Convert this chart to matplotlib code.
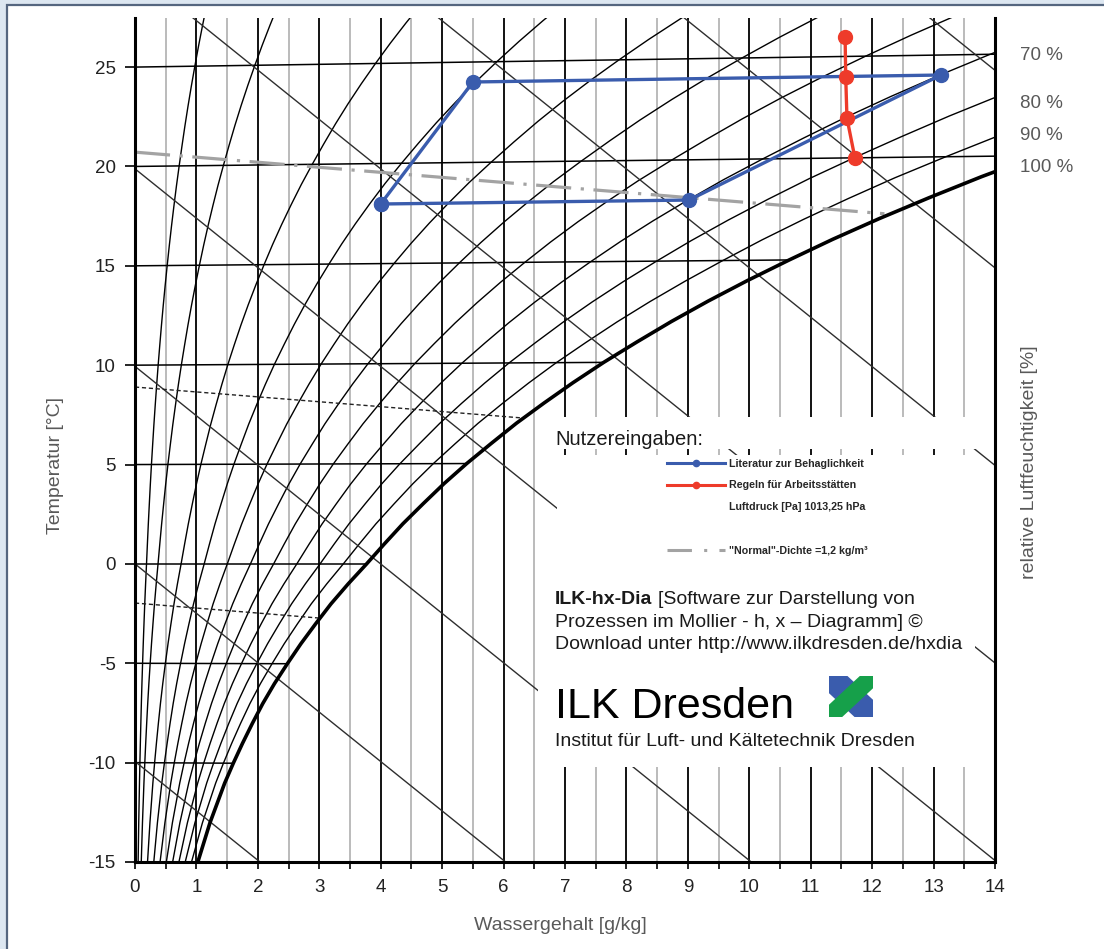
import numpy as np
import matplotlib.pyplot as plt
from matplotlib.lines import Line2D
from matplotlib.patches import Rectangle, Polygon

plt.rcParams['font.family'] = ['Liberation Sans', 'DejaVu Sans']
plt.rcParams['axes.unicode_minus'] = False

# ---------------------------------------------------------------------
# Daten
# ---------------------------------------------------------------------
# Sattigungslinie: Temperatur [°C] -> Wassergehalt [g/kg]
T_SAT = [-15, -14, -13, -12, -11, -10, -9, -8, -7, -6, -5, -4, -3, -2, -1, 0,
         1, 2, 3, 4, 5, 6, 7, 8, 9, 10, 11, 12, 13, 14, 15, 16, 17, 18, 19, 20,
         21, 22, 23, 24, 25, 26, 27, 28, 29, 30]
X_SAT = [1.02, 1.12, 1.22, 1.34, 1.46, 1.60, 1.75, 1.91, 2.08, 2.27, 2.48, 2.70, 2.94, 3.19, 3.47, 3.77,
         4.06, 4.36, 4.69, 5.03, 5.40, 5.80, 6.21, 6.66, 7.13, 7.63, 8.17, 8.73, 9.33, 9.97, 10.65, 11.36,
         12.12, 12.93, 13.78, 14.70, 15.66, 16.66, 17.73, 18.87, 20.08, 21.35, 22.70, 24.12, 25.62, 27.20]

RH_LEVELS = [5, 10, 20, 30, 40, 50, 60, 70, 80, 90]      # duenne phi-Linien [%]
ISOTHERMS = [-10, -5, 0, 5, 10, 15, 20, 25]              # [°C]
ENTHALPY = [-10, 0, 10, 20, 30, 40, 50, 60]              # [kJ/kg]

# Dichtelinien
RHO_120_X = [0.0, 12.2]
RHO_120_Y = [20.72, 17.62]
RHO_125_X = [0.0, 6.32]
RHO_125_Y = [8.90, 7.34]
RHO_130_X = [0.0, 2.98]
RHO_130_Y = [-1.97, -2.72]

# Nutzereingaben
BLUE_X = [4.00, 5.50, 13.12, 9.02, 4.00]
BLUE_Y = [18.11, 24.25, 24.60, 18.31, 18.11]
RED_X = [11.56, 11.57, 11.59, 11.72]
RED_Y = [26.50, 24.50, 22.43, 20.42]

RH_LABELS = ['70 %', '80 %', '90 %', '100 %']
RH_LABEL_Y = [25.6, 23.15, 21.55, 19.95]

BLUE = '#3a5cad'
RED = '#ee3b2a'
GRAY = '#a3a3a3'
TXT = '#595959'
DARK = '#1a1a1a'


def mollier_y(t, x):
    # schiefwinkliges h,x-Koordinatensystem
    return t * (1 + 0.00185 * np.asarray(x))


fig = plt.figure(figsize=(11.04, 9.49), dpi=100)
fig.patch.set_facecolor('#dde7f1')
fig.add_artist(Rectangle((6.5 / 1104, -0.02), 1.1, 1 - 5 / 949 + 0.02, transform=fig.transFigure,
                         facecolor='white', edgecolor='#55667f', lw=1.6, zorder=-5))

ax = fig.add_axes([135 / 1104, 87 / 949, 860 / 1104, 844 / 949])
ax.set_xlim(0, 14)
ax.set_ylim(-15, 27.47)

# Gitter
ax.set_xticks(np.arange(0, 15, 1))
ax.set_xticks(np.arange(0.5, 14, 1), minor=True)
ax.set_yticks(np.arange(-15, 30, 5))
ax.set_axisbelow(True)
ax.grid(which='major', axis='x', color='black', lw=1.3)
ax.grid(which='minor', axis='x', color='#a8a8a8', lw=1.1)

t_arr = np.array(T_SAT)
xs = np.array(X_SAT)

# relative Feuchte
for phi in RH_LEVELS:
    f = phi / 100
    x_phi = 622 * f * xs / (622 + xs - f * xs)
    ax.plot(x_phi, mollier_y(t_arr, x_phi), color='black', lw=1.0, zorder=2)
ax.plot(xs, mollier_y(t_arr, xs), color='black', lw=2.6, zorder=3)

# Isothermen
for t in ISOTHERMS:
    x_end = min(np.interp(t, T_SAT, X_SAT), 14)
    xx = np.array([0, x_end])
    ax.plot(xx, mollier_y(t, xx), color='black', lw=1.1, zorder=2)

# Isenthalpen
for h in ENTHALPY:
    ax.axline((0, h / 1.006), slope=-2.501 / 1.006, color='#2e2e2e', lw=1.0, zorder=2)

# Dichte
ax.plot(RHO_120_X, RHO_120_Y, color=GRAY, lw=2.3, ls=(0, (11, 3, 1, 3)), zorder=2.5)
ax.plot(RHO_125_X, RHO_125_Y, color='#222222', lw=1.0, ls=(0, (3, 2)), zorder=2.5)
ax.plot(RHO_130_X, RHO_130_Y, color='#222222', lw=1.0, ls=(0, (3, 2)), zorder=2.5)

# Prozesse
ax.plot(BLUE_X, BLUE_Y, color=BLUE, lw=2.4, marker='o', ms=10, zorder=6, clip_on=False)
ax.plot(RED_X, RED_Y, color=RED, lw=2.4, marker='o', ms=10, zorder=6, clip_on=False)

# weisse Felder fuer Legende / Text
for (x0, y0, w, hgt) in [(6.67, 5.78, 7.31, 1.61), (6.87, -0.71, 6.76, 6.19), (6.56, -10.22, 7.12, 9.51)]:
    ax.add_patch(Rectangle((x0, y0), w, hgt, facecolor='white', edgecolor='none', zorder=4))

# Achsen
for s in ['left', 'right', 'bottom']:
    ax.spines[s].set_linewidth(2.2)
    ax.spines[s].set_zorder(5)
ax.spines['top'].set_visible(False)
ax.tick_params(axis='y', direction='out', length=7, width=1.2, pad=7, labelsize=13.5, labelcolor='#222222')
ax.tick_params(axis='x', which='both', direction='out', length=5, width=1.2, pad=7, labelsize=13.5, labelcolor='#222222')
ax.tick_params(axis='x', which='minor', labelbottom=False)

fig.text(56 / 1104, 1 - 465 / 949, 'Temperatur [°C]', rotation=90, ha='center', va='center', fontsize=14, color=TXT)
fig.text(560 / 1104, 1 - 926 / 949, 'Wassergehalt [g/kg]', ha='center', va='center', fontsize=14, color=TXT)
fig.text(1029 / 1104, 1 - 462 / 949, 'relative Luftfeuchtigkeit [%]', rotation=90, ha='center', va='center',
         fontsize=14, color=TXT)

for lab, yl in zip(RH_LABELS, RH_LABEL_Y):
    ax.text(14.41, yl, lab, ha='left', va='center', fontsize=13.5, color=TXT, clip_on=False)

# Legende
ax.text(6.84, 6.28, 'Nutzereingaben:', fontsize=14.5, color=DARK, va='center', zorder=7)
handles = [
    Line2D([], [], color=BLUE, lw=2.2, marker='o', ms=4.5),
    Line2D([], [], color=RED, lw=2.2, marker='o', ms=4.5),
    Line2D([], [], color='none'),
    Line2D([], [], color='none'),
    Line2D([], [], color=GRAY, lw=2.2, ls=(0, (8, 4, 1, 4))),
]
labels = ['Literatur zur Behaglichkeit', 'Regeln für Arbeitsstätten', 'Luftdruck [Pa] 1013,25 hPa', ' ',
          '"Normal"-Dichte =1,2 kg/m³']
leg = ax.legend(handles, labels, loc='upper left', bbox_to_anchor=(8.66, 5.30), bbox_transform=ax.transData,
                frameon=False, prop={'size': 7.7, 'weight': 'bold'}, handlelength=5.4, handletextpad=0.4,
                labelspacing=1.1, borderpad=0, borderaxespad=0)
for t in leg.get_texts():
    t.set_color('#262626')
leg.set_zorder(7)

t1 = ax.text(6.84, -1.80, 'ILK-hx-Dia', fontsize=14, fontweight='bold', color=DARK, va='center', zorder=7)
ax.annotate('[Software zur Darstellung von', xy=(1, 0), xycoords=t1, xytext=(4, 0), textcoords='offset points',
            va='bottom', ha='left', fontsize=14, color=DARK, zorder=7)
ax.text(6.84, -2.95, 'Prozessen im Mollier - h, x \u2013 Diagramm] ©', fontsize=14, color=DARK, va='center', zorder=7)
ax.text(6.84, -4.06, 'Download unter http://www.ilkdresden.de/hxdia', fontsize=14, color=DARK, va='center', zorder=7)
ax.text(6.84, -7.18, 'ILK Dresden', fontsize=31, color='black', va='center', zorder=7)
ax.text(6.84, -8.94, 'Institut für Luft- und Kältetechnik Dresden', fontsize=14, color=DARK, va='center', zorder=7)

# Logo
lax = fig.add_axes([829 / 1104, 1 - 717 / 949, 44 / 1104, 41 / 949])
lax.set_xlim(0, 1)
lax.set_ylim(0, 1)
lax.axis('off')
lax.add_patch(Polygon([(0, 0.58), (0.58, 0), (1, 0), (1, 0.42), (0.42, 1), (0, 1)], closed=True,
                      facecolor='#3a5cad', edgecolor='none'))
lax.add_patch(Polygon([(0, 0), (0.3, 0), (1, 0.7), (1, 1), (0.7, 1), (0, 0.3)], closed=True,
                      facecolor='#16a04a', edgecolor='none'))

fig.savefig('out.png', dpi=100)
